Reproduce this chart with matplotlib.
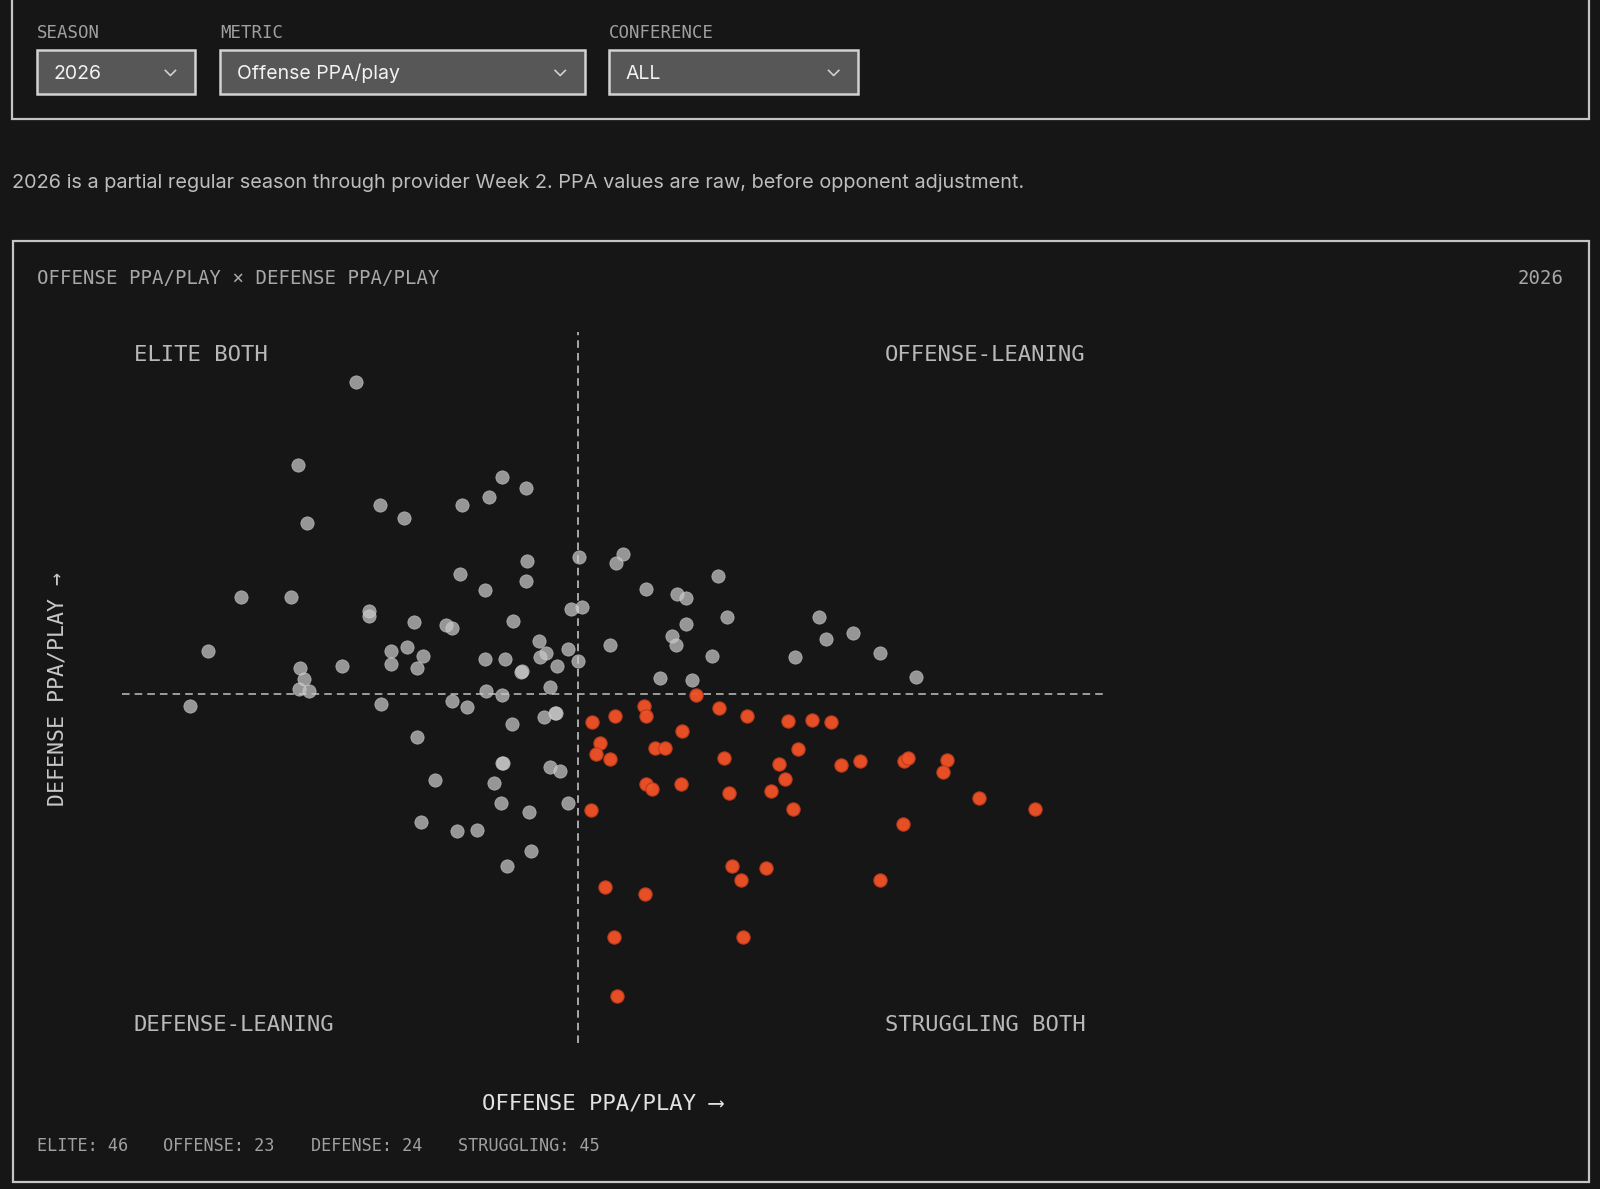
import matplotlib
matplotlib.use("Agg")
import matplotlib.pyplot as plt
from matplotlib.patches import Rectangle

# offense / defense PPA per play (defense shown with "better" up)
gray_off = [-0.217, -0.274, -0.265, -0.194, -0.170, -0.113, -0.087, -0.074, -0.051,
            -0.330, -0.281, -0.362, -0.204, -0.204, -0.160, -0.129, -0.123, -0.115,
            -0.091, -0.050, -0.051, -0.063, -0.183, -0.167, -0.151, -0.183, -0.157,
            -0.231, -0.272, -0.268, -0.273, -0.263, -0.380, -0.193, -0.123, -0.108,
            -0.091, -0.071, -0.055, -0.090, -0.074, -0.038, -0.031, -0.037, -0.020,
            -0.009, -0.006, 0.004, 0.001, -0.027, 0.000, -0.064, -0.033, -0.022,
            -0.157, -0.074, -0.027, -0.017, -0.140, -0.082, -0.075, -0.009, -0.153,
            -0.118, -0.099, -0.048, -0.046, -0.069, 0.038, 0.045, 0.067, 0.097,
            0.106, 0.138, 0.032, 0.093, 0.096, 0.106, 0.146, 0.132, 0.081, 0.112,
            0.237, 0.243, 0.270, 0.213, 0.296, 0.332, -0.054, -0.073, -0.021]
gray_def = [0.306, 0.224, 0.168, 0.185, 0.172, 0.185, 0.193, 0.213, 0.202,
            0.095, 0.095, 0.042, 0.081, 0.076, 0.071, 0.068, 0.065, 0.118,
            0.102, 0.130, 0.111, 0.072, 0.042, 0.046, 0.037, 0.029, 0.025,
            0.027, 0.025, 0.015, 0.005, 0.003, -0.012, -0.010, -0.007, -0.013,
            0.034, 0.034, 0.022, 0.003, -0.001, 0.052, 0.040, 0.036, 0.027,
            0.044, 0.083, 0.085, 0.134, 0.007, 0.032, -0.029, -0.023, -0.019,
            -0.042, -0.068, -0.072, -0.075, -0.084, -0.087, -0.107, -0.107, -0.125,
            -0.134, -0.133, -0.116, -0.154, -0.169, 0.128, 0.137, 0.103, 0.098,
            0.094, 0.116, 0.048, 0.057, 0.048, 0.069, 0.075, 0.037, 0.016, 0.014,
            0.075, 0.054, 0.060, 0.036, 0.040, 0.017, 0.023, -0.068, -0.019]

red_off = [0.014, 0.037, 0.065, 0.067, 0.116, 0.139, 0.166, 0.206, 0.230, 0.248,
           0.102, 0.022, 0.018, 0.032, 0.076, 0.086, 0.144, 0.216, 0.197, 0.258,
           0.277, 0.320, 0.324, 0.362, 0.358, 0.203, 0.067, 0.073, 0.101, 0.148,
           0.190, 0.013, 0.211, 0.393, 0.448, 0.319, 0.151, 0.160, 0.185, 0.296,
           0.027, 0.066, 0.036, 0.162, 0.039]
red_def = [-0.027, -0.022, -0.012, -0.022, -0.001, -0.014, -0.022, -0.026, -0.025, -0.027,
           -0.036, -0.048, -0.059, -0.064, -0.053, -0.053, -0.063, -0.054, -0.069, -0.070,
           -0.066, -0.066, -0.063, -0.065, -0.076, -0.083, -0.088, -0.093, -0.088, -0.097,
           -0.095, -0.114, -0.113, -0.102, -0.113, -0.127, -0.169, -0.182, -0.170, -0.182,
           -0.189, -0.196, -0.238, -0.238, -0.296]

quadrant_labels = ["ELITE BOTH", "OFFENSE-LEANING", "DEFENSE-LEANING", "STRUGGLING BOTH"]
footer_labels = ["ELITE: 46", "OFFENSE: 23", "DEFENSE: 24", "STRUGGLING: 45"]
filters = [("SEASON", "2026"), ("METRIC", "Offense PPA/play"), ("CONFERENCE", "ALL")]
note = ("2026 is a partial regular season through provider Week 2. "
        "PPA values are raw, before opponent adjustment.")

BG = "#161616"
MONO = ["DejaVu Sans Mono", "DejaVu Sans"]
SANS = ["Inter", "DejaVu Sans"]

# layout grid for the page furniture (output is 1600x1189 px)
W, H = 1568, 1165

fig = plt.figure(figsize=(16, 11.89), dpi=100, facecolor=BG)
ui = fig.add_axes([0, 0, 1, 1])
ui.set_xlim(0, W)
ui.set_ylim(H, 0)
ui.axis("off")


def label(x, y, s, size, color, family=MONO, ha="left"):
    # y is the visual middle of the capitals
    off = 0.36 * size * 100 / 72 * (H / 1189)
    ui.text(x, y + off, s, fontsize=size, color=color, family=family,
            ha=ha, va="baseline")


def chevron(x, y):
    ui.plot([x - 5, x, x + 5], [y - 3, y + 2, y - 3], color="#d0d0d0", lw=1.2)


# filter bar
ui.add_patch(Rectangle((12, -5), 1545, 122, fill=False, ec="#c4c4c4", lw=1.6))
boxes = [(36, 155), (216, 357), (597, 244)]
for (name, val), (bx, bw) in zip(filters, boxes):
    label(bx, 31, name, 12.5, "#a0a0a0")
    ui.add_patch(Rectangle((bx, 49), bw, 43, fc="#575757", ec="#d2d2d2", lw=1.8))
    label(bx + 16, 71, val, 14, "#f2f2f2", family=SANS)
    chevron(bx + bw - 24, 72)

label(12, 177, note, 14.3, "#bdbdbd", family=SANS)

# chart panel
ui.add_patch(Rectangle((13, 236), 1544, 922, fill=False, ec="#c4c4c4", lw=1.6))
label(36, 272, "OFFENSE PPA/PLAY × DEFENSE PPA/PLAY", 13.7, "#a8a8a8")
label(1532, 272, "2026", 13.7, "#a8a8a8", ha="right")

for s, (qx, qy) in zip(quadrant_labels, [(131, 346), (867, 346), (131, 1002), (867, 1002)]):
    label(qx, qy, s, 16, "#b8b8b8")

ui.text(56, 675, "DEFENSE PPA/PLAY →", fontsize=15.5, color="#c8c8c8", family=MONO,
        rotation=90, ha="center", va="center")
label(472, 1079, "OFFENSE PPA/PLAY ⟶", 16, "#e2e2e2")

for s, fx in zip(footer_labels, [36, 160, 305, 449]):
    label(fx, 1122, s, 12.2, "#a0a0a0")

# scatter
ax = fig.add_axes([120 / W, 1 - 1022 / H, 961 / W, 697 / H])
ax.set_facecolor("none")
ax.set_xlim(-0.446, 0.515)
ax.set_ylim(-0.342, 0.355)
ax.axis("off")

dash = (0, (4.2, 2.8))
ax.axhline(0, color="#a8a8a8", lw=1.3, linestyle=dash, zorder=1)
ax.axvline(0, color="#b4b4b4", lw=1.3, linestyle=dash, zorder=1)

ax.scatter(gray_off, gray_def, s=92, color="#c8c8c8", alpha=0.72,
           edgecolors="#d0d0d0", linewidths=0.5, zorder=2, clip_on=False)
ax.scatter(red_off, red_def, s=92, color="#f25226", alpha=0.95,
           edgecolors="#b83a1c", linewidths=0.8, zorder=3, clip_on=False)

fig.savefig("out.png", dpi=100, facecolor=BG)
